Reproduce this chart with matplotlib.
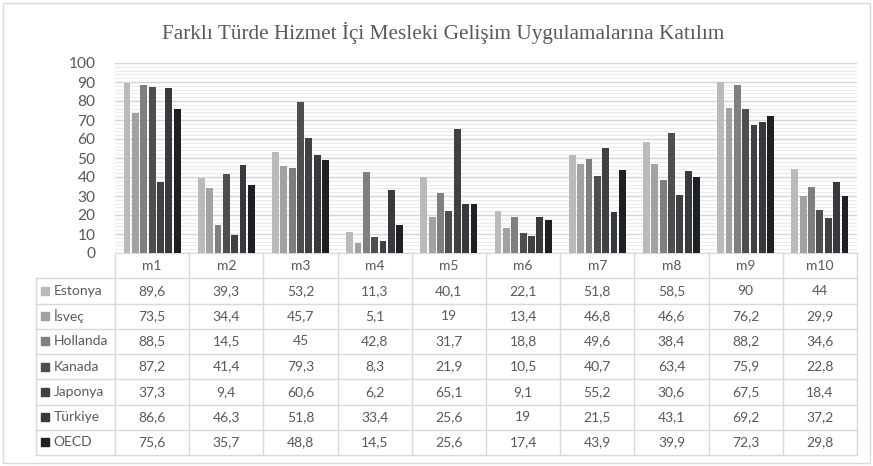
import numpy as np
import matplotlib.pyplot as plt
from matplotlib.patches import Rectangle

categories = ['m1', 'm2', 'm3', 'm4', 'm5', 'm6', 'm7', 'm8', 'm9', 'm10']
countries = ['Estonya', 'İsveç', 'Hollanda', 'Kanada', 'Japonya', 'Türkiye', 'OECD']

estonya = [89.6, 39.3, 53.2, 11.3, 40.1, 22.1, 51.8, 58.5, 90, 44]
isvec = [73.5, 34.4, 45.7, 5.1, 19, 13.4, 46.8, 46.6, 76.2, 29.9]
hollanda = [88.5, 14.5, 45, 42.8, 31.7, 18.8, 49.6, 38.4, 88.2, 34.6]
kanada = [87.2, 41.4, 79.3, 8.3, 21.9, 10.5, 40.7, 63.4, 75.9, 22.8]
japonya = [37.3, 9.4, 60.6, 6.2, 65.1, 9.1, 55.2, 30.6, 67.5, 18.4]
turkiye = [86.6, 46.3, 51.8, 33.4, 25.6, 19, 21.5, 43.1, 69.2, 37.2]
oecd = [75.6, 35.7, 48.8, 14.5, 25.6, 17.4, 43.9, 39.9, 72.3, 29.8]

series = [estonya, isvec, hollanda, kanada, japonya, turkiye, oecd]
colors = ['#b9bbbb', '#a0a2a3', '#7d7f80', '#4c4e50', '#3e4042', '#37393c', '#1e2124']

W, H = 873, 466
fig = plt.figure(figsize=(W / 100, H / 100), dpi=100)
txt = '#595959'
line = '#d9d9d9'

# outer border
fig.patches.append(Rectangle((3 / W, 3 / H), 867 / W, 460 / H, transform=fig.transFigure,
                             fill=False, edgecolor=line, lw=1))

fig.text(443 / W, 1 - 33 / H, 'Farklı Türde Hizmet İçi Mesleki Gelişim Uygulamalarına Katılım',
         ha='center', va='center', fontsize=15.3, color=txt, family='Liberation Serif')

left, right = 115, 857
ax = fig.add_axes([left / W, 1 - 253 / H, (right - left) / W, (253 - 63) / H])
x = np.arange(len(categories))
step, bw = 0.113, 0.092
for i, (vals, c) in enumerate(zip(series, colors)):
    ax.bar(x + (i - 3) * step, vals, width=bw, color=c, zorder=3)

ax.set_xlim(-0.5, 9.5)
ax.set_ylim(0, 100)
ax.set_yticks(np.arange(0, 101, 10))
ax.set_yticks(np.arange(0, 101, 2), minor=True)
ax.yaxis.grid(True, which='major', color='#d4d4d4', lw=1, zorder=0)
ax.yaxis.grid(True, which='minor', color='#ebebeb', lw=0.8, zorder=0)
ax.set_xticks([])
ax.tick_params(axis='y', which='both', length=0, labelsize=11.2, labelcolor=txt, pad=14)
for lab in ax.get_yticklabels():
    lab.set_family('Lato')
for s in ['top', 'right', 'left']:
    ax.spines[s].set_visible(False)
ax.spines['bottom'].set_color(line)

# data table below the axis
tb = fig.add_axes([left / W, 1 - 455 / H, (right - left) / W, (455 - 253) / H])
tb.set_xlim(-0.5, 9.5)
tb.set_ylim(8, 0)
tb.axis('off')
lab_left = -0.5 - 79 / 74.2
for r in range(1, 9):
    tb.plot([lab_left, 9.5], [r, r], color=line, lw=1, clip_on=False)
tb.plot([lab_left, lab_left], [1, 8], color=line, lw=1, clip_on=False)
for k in range(11):
    tb.plot([k - 0.5, k - 0.5], [0, 8], color=line, lw=1, clip_on=False)
fs = 10
for j, c in enumerate(categories):
    tb.text(j, 0.5, c, ha='center', va='center', fontsize=fs, color=txt, family='Lato')
for i, (name, vals, col) in enumerate(zip(countries, series, colors)):
    yy = i + 1.5
    tb.plot([-1.437], [yy], marker='s', ms=6, color=col, clip_on=False)
    tb.text(-1.33, yy, name, ha='left', va='center', fontsize=fs, color=txt, family='Lato')
    for j, v in enumerate(vals):
        tb.text(j, yy, f'{v:g}'.replace('.', ','), ha='center', va='center',
                fontsize=fs, color=txt, family='Lato')

fig.savefig('out.png', dpi=100)
